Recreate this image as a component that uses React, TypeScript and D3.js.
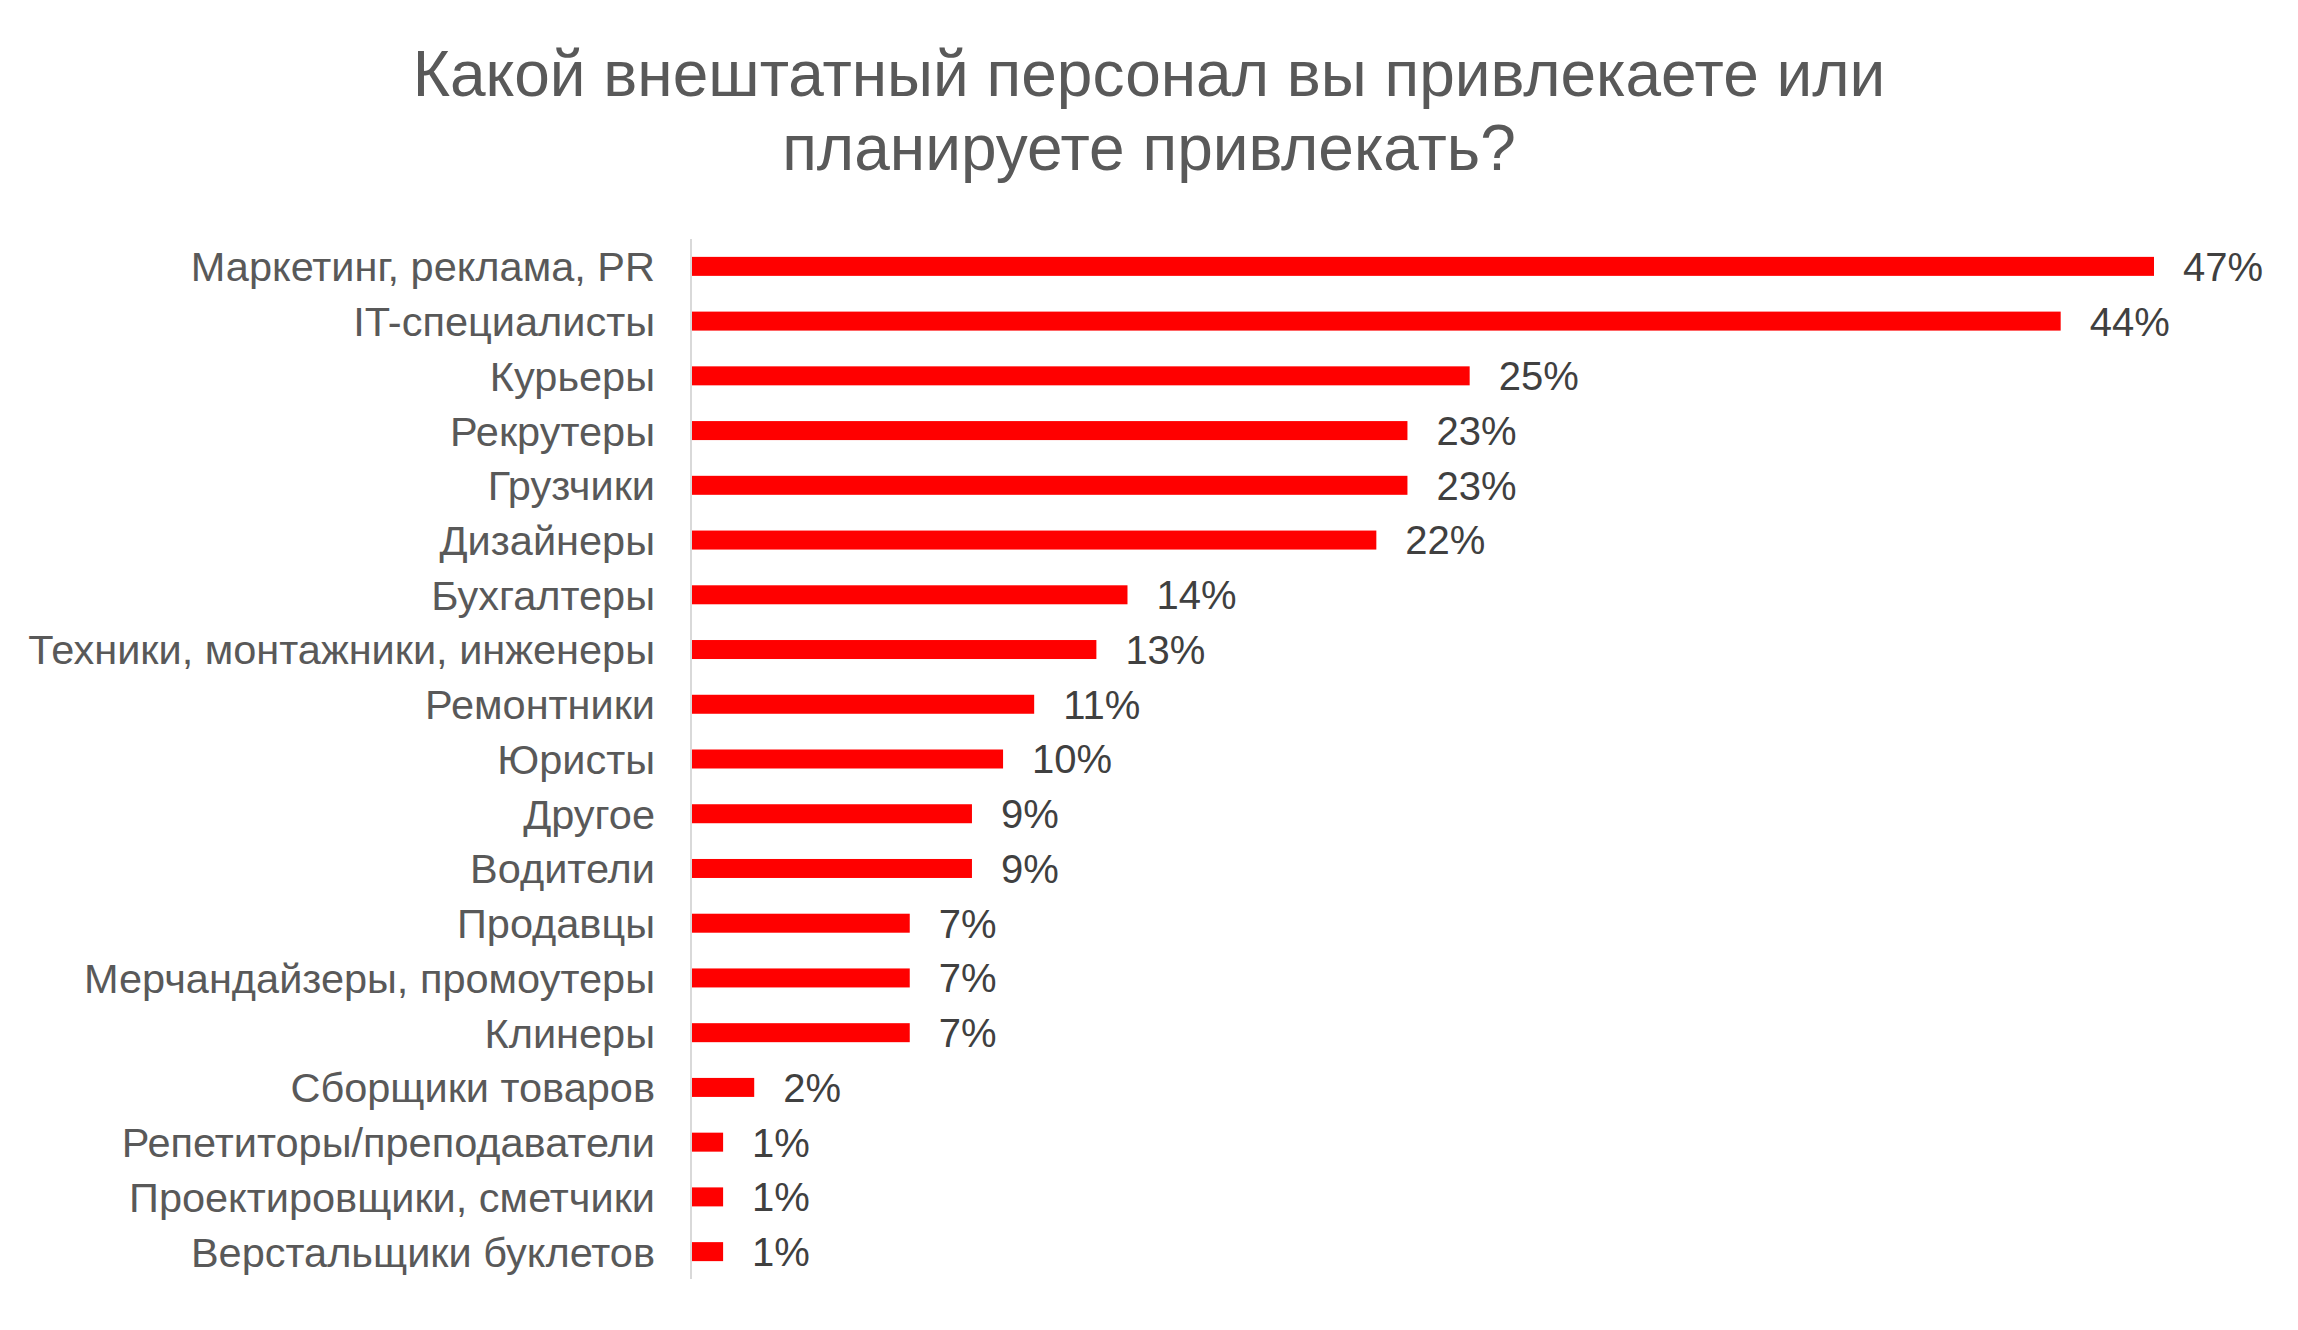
import React from "react";
import * as d3 from "d3";

const titleLines = ["Какой внештатный персонал вы привлекаете или", "планируете привлекать?"];
const categories = [
  "Маркетинг, реклама, PR",
  "IT-специалисты",
  "Курьеры",
  "Рекрутеры",
  "Грузчики",
  "Дизайнеры",
  "Бухгалтеры",
  "Техники, монтажники, инженеры",
  "Ремонтники",
  "Юристы",
  "Другое",
  "Водители",
  "Продавцы",
  "Мерчандайзеры, промоутеры",
  "Клинеры",
  "Сборщики товаров",
  "Репетиторы/преподаватели",
  "Проектировщики, сметчики",
  "Верстальщики буклетов",
];
const values = [47, 44, 25, 23, 23, 22, 14, 13, 11, 10, 9, 9, 7, 7, 7, 2, 1, 1, 1];

const W = 2298;
const H = 1330;
const axisX = 691;
const top = 239;
const bottom = 1279;

export default function App() {
  const x = d3.scaleLinear().domain([0, 47]).range([axisX + 1, 2154]);
  const y = d3
    .scaleBand<string>()
    .domain(categories)
    .range([top, bottom])
    .paddingInner(0.653)
    .paddingOuter(0.3265);
  const font = "'Liberation Sans', Arial, sans-serif";
  return (
    <svg
      width={W}
      height={H}
      style={{ position: "absolute", left: 0, top: 0, background: "#fff" }}
      fontFamily={font}
    >
      <rect x={0} y={0} width={W} height={H} fill="#fff" />
      {titleLines.map((t, i) => (
        <text
          key={i}
          x={W / 2}
          y={96 + i * 74}
          textAnchor="middle"
          fontSize={64}
          fill="#595959"
        >
          {t}
        </text>
      ))}
      {categories.map((c, i) => {
        const yc = (y(c) as number) + y.bandwidth() / 2;
        return (
          <g key={c}>
            <rect
              x={x(0)}
              y={y(c)}
              width={x(values[i]) - x(0)}
              height={y.bandwidth()}
              fill="#FF0000"
            />
            <text
              x={655}
              y={yc}
              dy="0.36em"
              textAnchor="end"
              fontSize={41.5}
              fill="#595959"
            >
              {c}
            </text>
            <text
              x={x(values[i]) + 29}
              y={yc}
              dy="0.36em"
              textAnchor="start"
              fontSize={40}
              fill="#404040"
            >
              {values[i] + "%"}
            </text>
          </g>
        );
      })}
      <line x1={axisX} x2={axisX} y1={top} y2={bottom} stroke="#d9d9d9" strokeWidth={2} />
    </svg>
  );
}
